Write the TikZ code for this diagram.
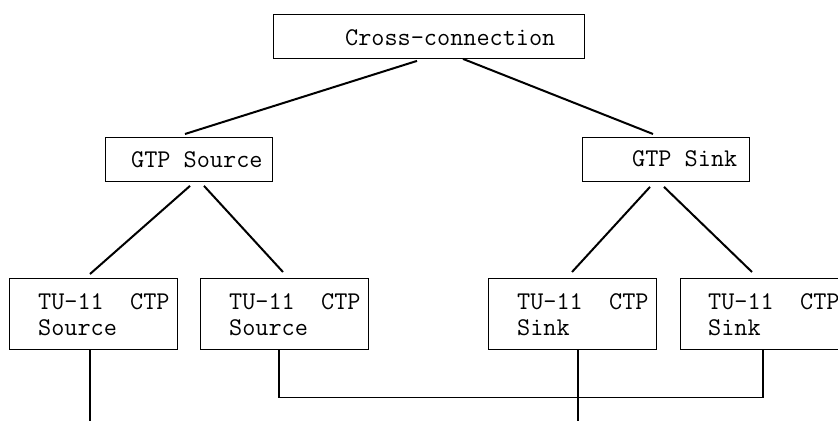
\documentclass[tikz,border=0pt]{standalone}
\begin{document}
\begin{tikzpicture}[x=1pt,y=-1pt,
  box/.style={draw,line width=0.9pt,rectangle,inner sep=0pt,anchor=north west},
  lbl/.style={anchor=base west,inner sep=0pt,font=\ttfamily\fontsize{25.5}{26}\selectfont},
  conn/.style={line width=2pt},
  wire/.style={line width=1.1pt}]
\clip (0,0) rectangle (838,421);
% boxes
\node[box,minimum width=311pt,minimum height=44pt] (top) at (273,14) {};
\node[box,minimum width=167pt,minimum height=44pt] (gsrc) at (105,137) {};
\node[box,minimum width=167pt,minimum height=44pt] (gsnk) at (582,137) {};
\node[box,minimum width=168pt,minimum height=71pt] (b1) at (9,278) {};
\node[box,minimum width=168pt,minimum height=71pt] (b2) at (200,278) {};
\node[box,minimum width=168pt,minimum height=71pt] (b3) at (488,278) {};
\node[box,minimum width=168pt,minimum height=71pt] (b4) at (680,278) {};
% texts
\node[lbl] (ttop) at (345,45) {Cross-connection};
\node[lbl] (tgsrc) at (131,167) {GTP Source};
\node[lbl] (tgsnk) at (632,166) {GTP Sink};
\node[lbl] (tb1a) at (38,309) {TU-11~~CTP};
\node[lbl] (tb1b) at (38,335) {Source};
\node[lbl] (tb2a) at (229,309) {TU-11~~CTP};
\node[lbl] (tb2b) at (229,335) {Source};
\node[lbl] (tb3a) at (517,309) {TU-11~~CTP};
\node[lbl] (tb3b) at (517,335) {Sink};
\node[lbl] (tb4a) at (708,309) {TU-11~~CTP};
\node[lbl] (tb4b) at (708,335) {Sink};
% tree connectors
\draw[conn] ([xshift=144pt,yshift=-2pt]top.south west) -- ([xshift=80pt,yshift=3pt]gsrc.north west);
\draw[conn] ([xshift=190pt]top.south west) -- ([xshift=71pt,yshift=3pt]gsnk.north west);
\draw[conn] ([xshift=85pt,yshift=-4pt]gsrc.south west) -- ([xshift=81pt,yshift=4pt]b1.north west);
\draw[conn] ([xshift=99pt,yshift=-4pt]gsrc.south west) -- ([xshift=83pt,yshift=6pt]b2.north west);
\draw[conn] ([xshift=68pt,yshift=-5pt]gsnk.south west) -- ([xshift=84pt,yshift=6pt]b3.north west);
\draw[conn] ([xshift=82pt,yshift=-5pt]gsnk.south west) -- ([xshift=72pt,yshift=6pt]b4.north west);
% bottom wires
\coordinate (e1) at (90,421);
\coordinate (e3) at (578,421);
\draw[wire] ([xshift=81pt]b1.south west) -- (e1);
\draw[wire] ([xshift=90pt]b3.south west) -- (e3);
\draw[wire] ([xshift=79pt]b2.south west) -- ++(0,48) -| ([xshift=83pt]b4.south west);
\end{tikzpicture}
\end{document}
